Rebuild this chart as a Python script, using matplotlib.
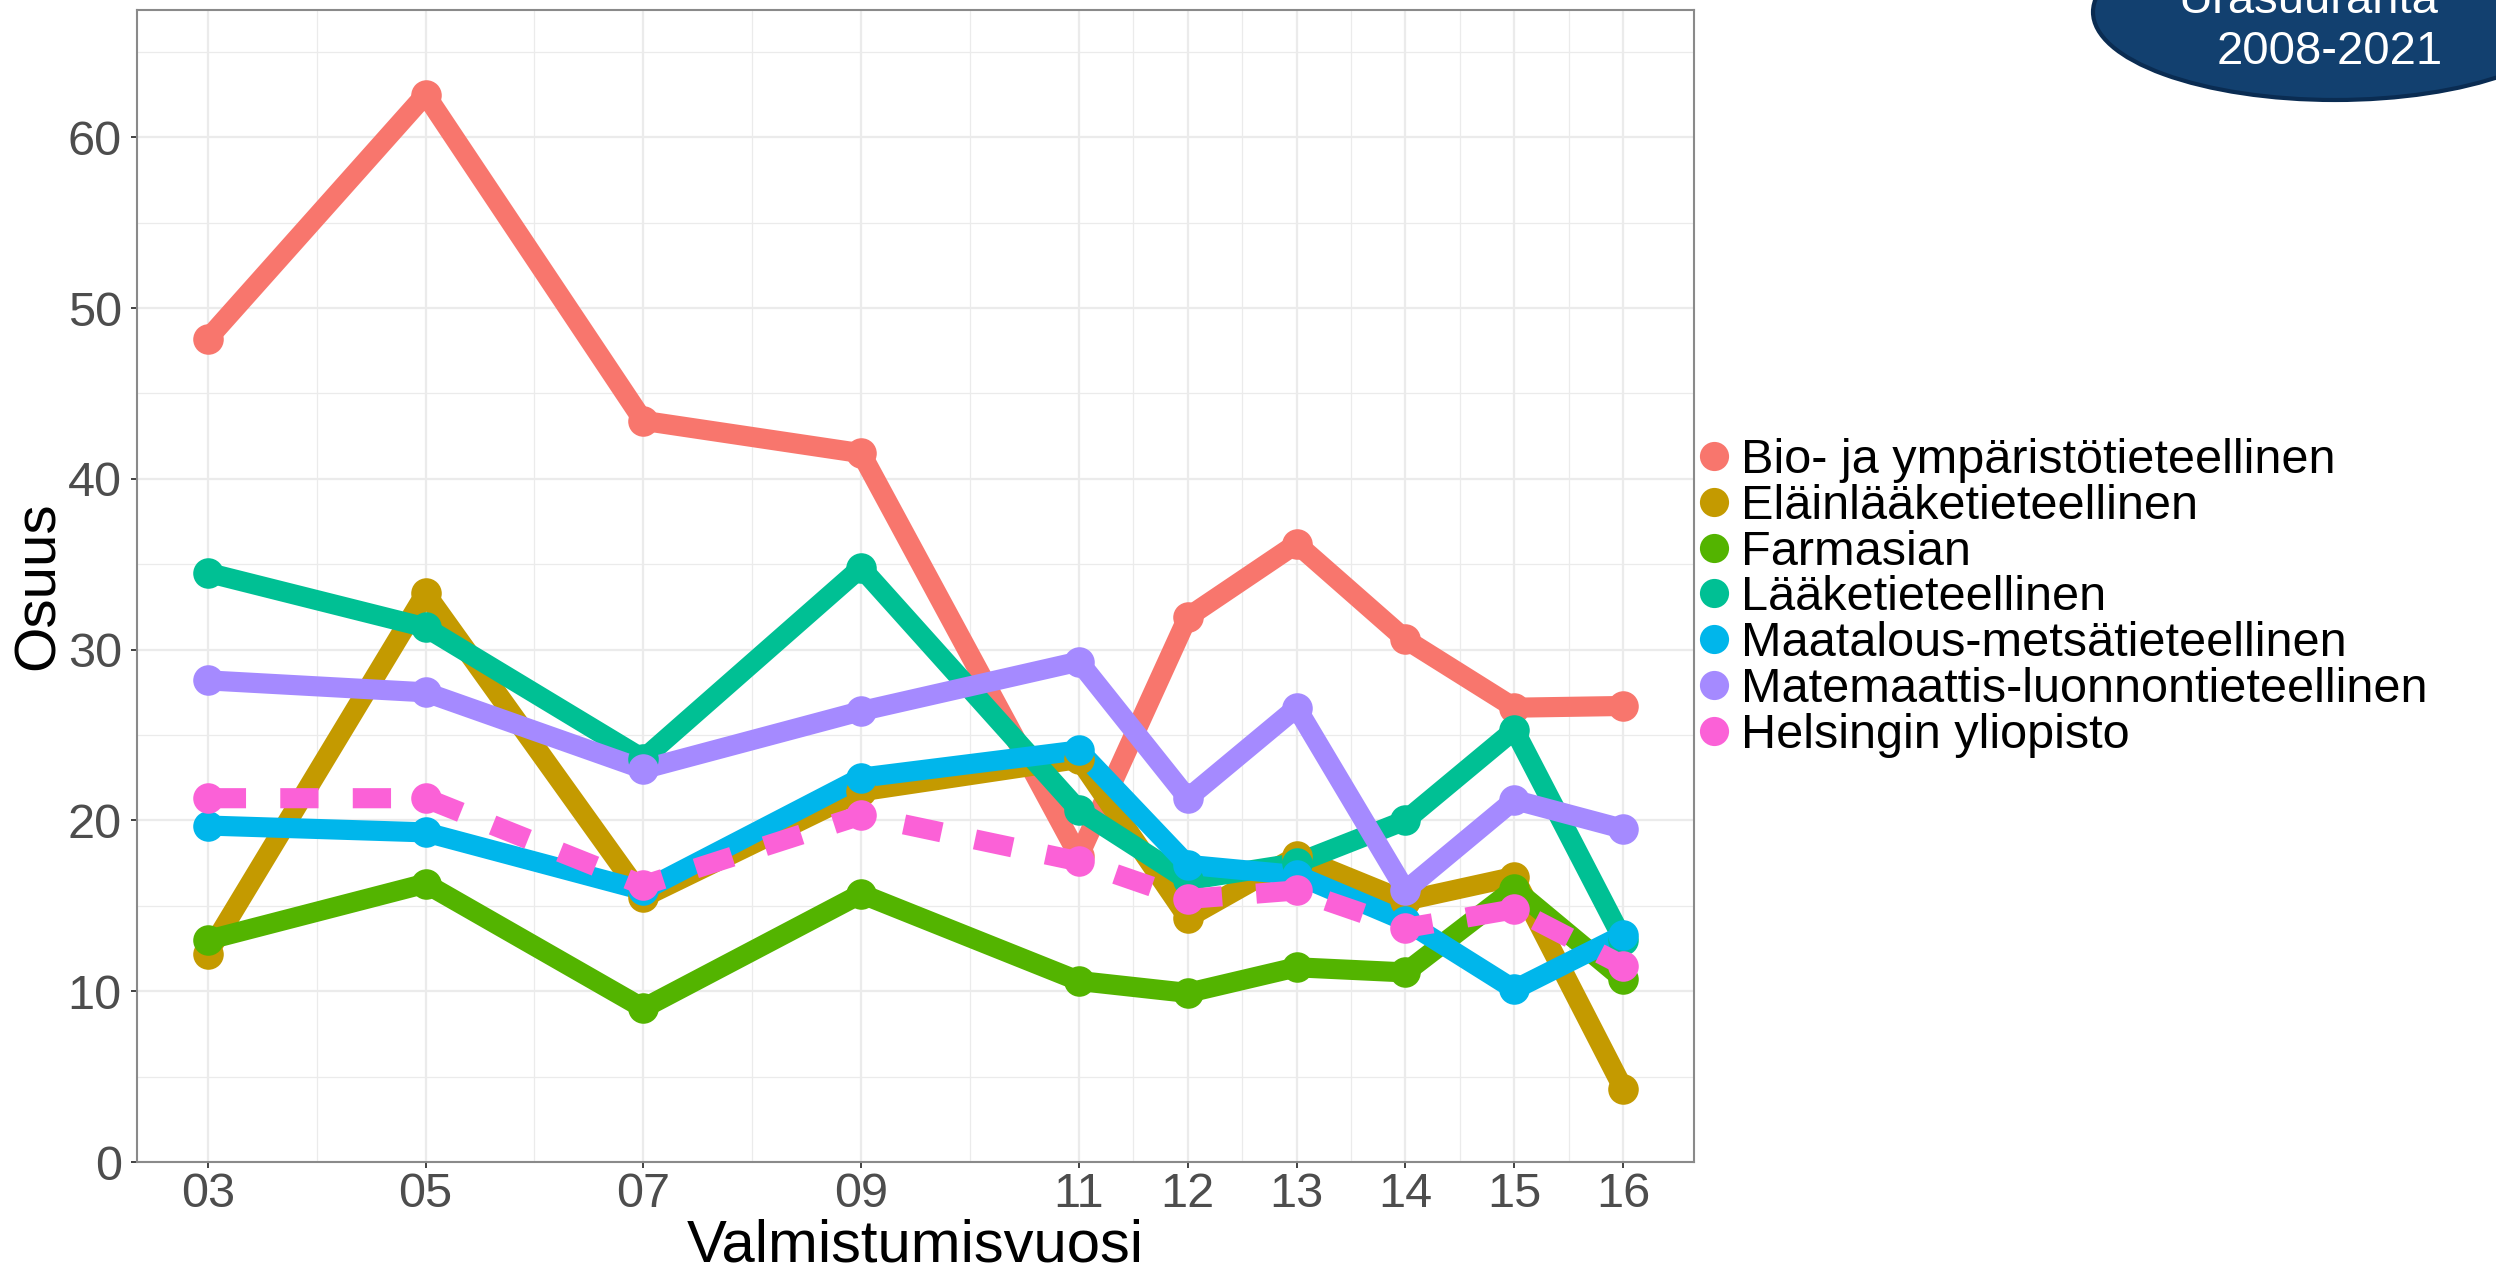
import matplotlib
matplotlib.use("Agg")
import matplotlib.pyplot as plt
from matplotlib.lines import Line2D
from matplotlib.patches import Ellipse

plt.rcParams['font.family'] = ['Liberation Sans', 'DejaVu Sans']

# data
years = [3, 5, 7, 9, 11, 12, 13, 14, 15, 16]
year_labels = ['03', '05', '07', '09', '11', '12', '13', '14', '15', '16']

bio = [48.2, 62.5, 43.4, 41.5, 17.9, 31.9, 36.2, 30.6, 26.6, 26.7]
elain = [12.2, 33.3, 15.5, 21.7, 23.6, 14.3, 17.9, 15.3, 16.7, 4.3]
farma = [13.0, 16.3, 9.0, 15.7, 10.6, 9.9, 11.4, 11.1, 16.0, 10.7]
laake = [34.5, 31.3, 23.6, 34.8, 20.6, 16.5, 17.5, 20.0, 25.3, 13.0]
maatalous = [19.7, 19.3, 15.9, 22.5, 24.1, 17.4, 16.8, 14.1, 10.1, 13.3]
matem = [28.2, 27.5, 23.0, 26.4, 29.3, 21.3, 26.6, 15.9, 21.2, 19.5]
hy = [21.3, 21.3, 16.2, 20.3, 17.6, 15.4, 15.9, 13.7, 14.8, 11.5]

names = ['Bio- ja ympäristötieteellinen', 'Eläinlääketieteellinen', 'Farmasian',
         'Lääketieteellinen', 'Maatalous-metsätieteellinen',
         'Matemaattis-luonnontieteellinen', 'Helsingin yliopisto']
series = [bio, elain, farma, laake, maatalous, matem, hy]
colors = ['#F8766D', '#C49A00', '#53B400', '#00C094', '#00B6EB', '#A58AFF', '#FB61D7']

W, H = 2496, 1273
fig = plt.figure(figsize=(W / 100, H / 100), dpi=100)
ax = fig.add_axes([137 / W, 1 - 1162 / H, (1694 - 137) / W, (1162 - 10) / H])

# grid (ggplot theme_bw look)
ax.set_xlim(2.35, 16.65)
ax.set_ylim(0, 67.45)
ax.set_xticks(years)
ax.set_xticklabels(year_labels)
ax.set_xticks([4, 6, 8, 10, 11.5, 12.5, 13.5, 14.5, 15.5], minor=True)
ax.set_yticks(range(0, 61, 10))
ax.set_yticks(range(5, 66, 10), minor=True)
ax.grid(which='major', color='#EBEBEB', lw=1.6)
ax.grid(which='minor', color='#EBEBEB', lw=0.9)
ax.set_axisbelow(True)
ax.tick_params(which='minor', length=0)
ax.tick_params(which='major', length=4, width=1.3, color='#333333',
               labelsize=35, labelcolor='#4D4D4D')
ax.tick_params(axis='y', pad=7)
ax.tick_params(axis='x', pad=3)
for sp in ax.spines.values():
    sp.set_color('#8A8A8A')
    sp.set_linewidth(1.5)

lw = 14.5
ms = 22
# lines first, then points, helsinki dashed on top
for vals, c in zip(series[:-1], colors[:-1]):
    ax.plot(years, vals, color=c, lw=lw, solid_joinstyle='round', solid_capstyle='butt', zorder=2)
for vals, c in zip(series[:-1], colors[:-1]):
    ax.plot(years, vals, 'o', color=c, ms=ms, mew=0, zorder=3)
ax.plot(years, hy, color=colors[-1], lw=lw, linestyle=(0, (1.9, 1.7)), zorder=4)
ax.plot(years, hy, 'o', color=colors[-1], ms=ms, mew=0, zorder=5)

ax.set_xlabel('Valmistumisvuosi', fontsize=43)
ax.xaxis.set_label_coords(0.5, -0.049)
ax.set_ylabel('Osuus', fontsize=42)
ax.yaxis.set_label_coords(-0.046, 0.5)

# legend: points only
handles = [Line2D([], [], marker='o', linestyle='none', color=c, ms=21, mew=0) for c in colors]
fig.legend(handles, names, loc='center left', bbox_to_anchor=(1697 / W, 1 - 598 / H),
           frameon=False, fontsize=35, handlelength=0.7, handletextpad=0.2,
           borderpad=0, borderaxespad=0, labelspacing=0.02)

# badge in the top right corner
ov = fig.add_axes([0, 0, 1, 1], zorder=10)
ov.set_xlim(0, W)
ov.set_ylim(H, 0)
ov.axis('off')
ov.add_patch(Ellipse((2335, 12), 484, 176, facecolor='#12406F', edgecolor='#0A2C52', lw=3))
ov.text(2330, 52, '2008-2021', color='white', fontsize=34, ha='center', va='center')
ov.text(2308, 1, 'Urasuuranta', color='white', fontsize=34, ha='center', va='center')

fig.savefig('out.png', dpi=100)
